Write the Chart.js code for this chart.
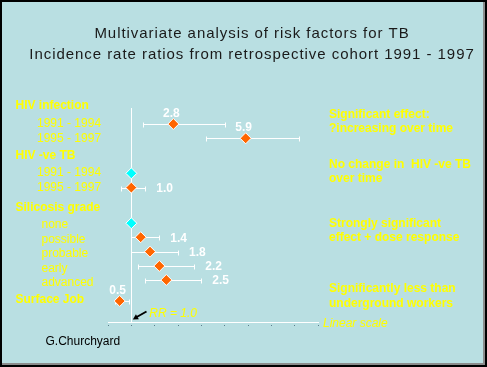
<!DOCTYPE html>
<html>
<head>
<meta charset="utf-8">
<script src="https://cdn.jsdelivr.net/npm/chart.js@4"></script>
<style>
  body { margin: 0; background: #fff; }
  #wrap { position: relative; width: 487px; height: 367px; background: #b9dfe2; }
  #wrap canvas { position: absolute; left: 0; top: 0; }
  #frame { position: absolute; left: 0; top: 0; width: 487px; height: 367px; box-sizing: border-box;
           border: 2px solid #000; box-shadow: inset -2px -2px 0 #8c8c8c; pointer-events: none; }
</style>
</head>
<body>
<div id="wrap"><canvas id="chart" width="487" height="367"></canvas><div id="frame"></div></div>
<script>
// rows of the forest plot, top to bottom
const rowLabels = ['1991 - 1994', '1995 - 1997', '1991 - 1994', '1995 - 1997',
  'none', 'possible', 'probable', 'early', 'advanced', 'Surface Job'];
const rowPos = [0, 1, 3.45, 4.45, 6.94, 7.92, 8.93, 9.93, 10.91, 12.38];
const rateRatio = [2.8, 5.9, 1.0, 1.0, 1.0, 1.4, 1.8, 2.2, 2.5, 0.5];
const ciLow = [1.5, 4.2, null, 0.55, null, 1.0, 1.0, 1.3, 1.6, 0.3];
const ciHigh = [5.0, 8.2, null, 1.6, null, 2.2, 3.0, 3.7, 4.0, 0.9];
const isBaseline = [false, false, true, false, true, false, false, false, false, false];
const groupLabels = ['HIV infection', 'HIV -ve TB', 'Silicosis grade'];
const xMin = 0, xMax = 9;

// text layout (pixels)
const rowLabelX = [37, 37, 37, 37, 41.5, 41.5, 41.5, 41.5, 41.5, 15.5];
const rowLabelY = [127.3, 142.3, 176, 190.7, 228.3, 243.3, 257.3, 271.7, 286, 302.7];
const groupLabelY = [109, 159, 211.3];
const valueSide = ['above', 'above', null, 'right', null, 'right', 'right', 'right', 'right', 'above'];
const notes = [
  ['Significant effect:', 118.3], ['?increasing over time', 132.3],
  ['No change in  HIV -ve TB', 168.3], ['over time', 182.3],
  ['Strongly significant', 226.7], ['effect + dose response', 241],
  ['Significantly less than', 292.3], ['underground workers', 307.3]
];

const YELLOW = '#ffff00';
const FONT = '"Liberation Sans", Arial, sans-serif';

const overlay = {
  id: 'overlay',
  beforeDatasetsDraw(chart) {
    const { ctx, chartArea, scales: { x, y } } = chart;
    ctx.save();
    ctx.strokeStyle = '#ffffff';
    ctx.lineWidth = 1;
    // RR = 1 line
    const x1 = Math.round(x.getPixelForValue(1)) + 0.5;
    ctx.beginPath();
    ctx.moveTo(x1, chartArea.top);
    ctx.lineTo(x1, chartArea.bottom);
    ctx.stroke();
    // confidence intervals
    rowPos.forEach((p, i) => {
      if (ciLow[i] == null) return;
      const py = Math.round(y.getPixelForValue(p)) + 0.5;
      const a = Math.round(x.getPixelForValue(ciLow[i])) + 0.5;
      const b = Math.round(x.getPixelForValue(ciHigh[i])) + 0.5;
      ctx.beginPath();
      ctx.moveTo(a, py); ctx.lineTo(b, py);
      ctx.moveTo(a, py - 2); ctx.lineTo(a, py + 3);
      ctx.moveTo(b, py - 2); ctx.lineTo(b, py + 3);
      ctx.stroke();
    });
    ctx.restore();
  },
  afterDraw(chart) {
    const { ctx, chartArea, scales: { x, y } } = chart;
    ctx.save();
    ctx.textBaseline = 'alphabetic';

    // title (the original font is spaced wider)
    ctx.fillStyle = '#1a1a1a';
    ctx.textAlign = 'center';
    ctx.font = '15px ' + FONT;
    ctx.letterSpacing = '0.95px';
    ctx.fillText('Multivariate analysis of risk factors for TB', 252, 37.5);
    ctx.fillText('Incidence rate ratios from retrospective cohort 1991 - 1997', 252, 59);
    ctx.letterSpacing = '0px';

    // left labels
    ctx.textAlign = 'left';
    ctx.fillStyle = YELLOW;
    ctx.font = 'bold 12px ' + FONT;
    groupLabels.forEach((g, i) => ctx.fillText(g, 15.5, groupLabelY[i]));
    rowLabels.forEach((r, i) => {
      ctx.font = (i === rowLabels.length - 1 ? 'bold ' : '') + '12px ' + FONT;
      ctx.fillText(r, rowLabelX[i], rowLabelY[i]);
    });

    // notes on the right
    ctx.font = 'bold 12px ' + FONT;
    notes.forEach(([t, ty]) => ctx.fillText(t, 329, ty));
    ctx.font = 'italic 12px ' + FONT;
    ctx.fillText('Linear scale', 323, 326.7);
    ctx.fillText('RR = 1.0', 149.3, 317.3);

    // value labels
    ctx.fillStyle = '#ffffff';
    ctx.font = 'bold 12px ' + FONT;
    rowPos.forEach((p, i) => {
      if (!valueSide[i]) return;
      const py = y.getPixelForValue(p);
      const txt = rateRatio[i].toFixed(1);
      if (valueSide[i] === 'above') {
        ctx.textAlign = 'center';
        ctx.fillText(txt, x.getPixelForValue(rateRatio[i]) - 2, py - 7);
      } else {
        ctx.textAlign = 'left';
        ctx.fillText(txt, x.getPixelForValue(ciHigh[i]) + 11, py + 4.3);
      }
    });

    // arrow to RR = 1
    const ax = x.getPixelForValue(1) + 1.5, ay = chartArea.bottom - 2.5;
    ctx.strokeStyle = '#000';
    ctx.fillStyle = '#000';
    ctx.lineWidth = 2;
    ctx.beginPath();
    ctx.moveTo(146.5, 311.5);
    ctx.lineTo(ax + 3, ay - 2);
    ctx.stroke();
    const ang = Math.atan2(ay - 311.5, ax - 146.5);
    ctx.beginPath();
    ctx.moveTo(ax, ay);
    ctx.lineTo(ax - 6 * Math.cos(ang - 0.5), ay - 6 * Math.sin(ang - 0.5));
    ctx.lineTo(ax - 6 * Math.cos(ang + 0.5), ay - 6 * Math.sin(ang + 0.5));
    ctx.closePath();
    ctx.fill();

    // credit
    ctx.textAlign = 'left';
    ctx.fillStyle = '#000';
    ctx.font = '12px ' + FONT;
    ctx.fillText('G.Churchyard', 45.5, 345);
    ctx.restore();
  }
};

new Chart(document.getElementById('chart'), {
  type: 'scatter',
  data: {
    datasets: [{
      data: rowPos.map((p, i) => ({ x: rateRatio[i], y: p })),
      pointStyle: 'rectRot',
      pointRadius: 5.5,
      pointBorderWidth: 1,
      pointBorderColor: '#ffffff',
      pointBackgroundColor: isBaseline.map(b => b ? '#00ffff' : '#ff6600')
    }]
  },
  options: {
    responsive: false,
    animation: false,
    devicePixelRatio: 1,
    layout: { padding: { left: 108, right: 169, top: 108, bottom: 41 } },
    plugins: { legend: { display: false }, tooltip: { enabled: false } },
    scales: {
      x: {
        type: 'linear', min: xMin, max: xMax,
        border: { color: '#ffffff', width: 1 },
        grid: { drawOnChartArea: false, drawTicks: true, tickLength: 4, color: '#5b7f8c',
                tickBorderDash: [2, 2], tickBorderDashOffset: 2 },
        ticks: { display: false, stepSize: 1 }
      },
      y: { type: 'linear', min: -1.12, max: 13.85, reverse: true, display: false }
    }
  },
  plugins: [overlay]
});
</script>
</body>
</html>
